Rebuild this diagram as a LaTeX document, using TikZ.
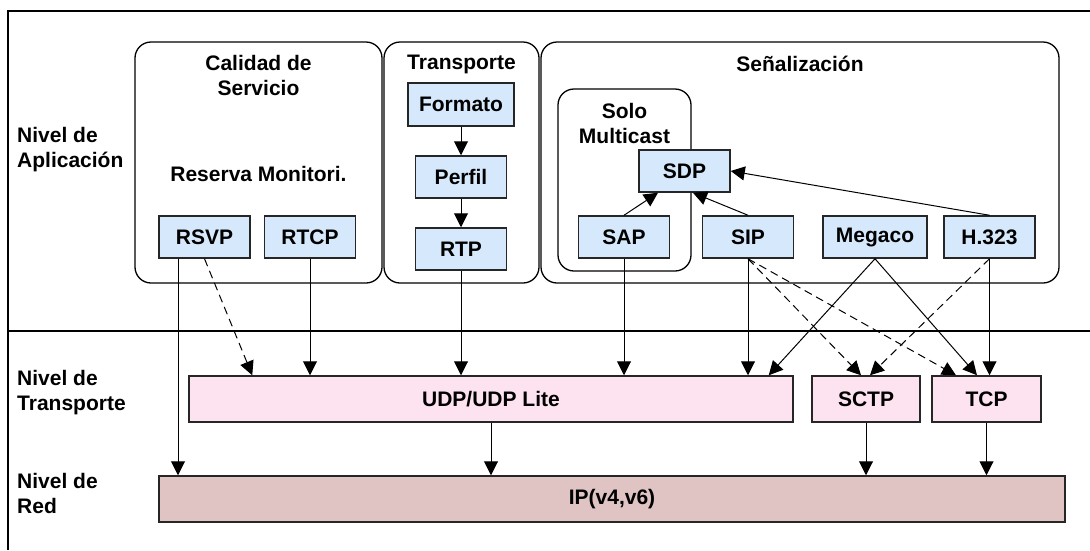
\documentclass[tikz,border=0pt]{standalone}
\usepackage{fontspec}
\setmainfont{Liberation Sans}
\usetikzlibrary{positioning, arrows.meta}

\definecolor{azulp}{RGB}{214,233,252}
\definecolor{rosa}{RGB}{253,226,240}
\definecolor{malva}{RGB}{224,196,196}

\tikzset{
  proto/.style={draw=black!85, line width=1.5pt, fill=azulp, inner sep=0pt,
                minimum width=91pt, minimum height=42pt},
  transp/.style={proto, fill=rosa, minimum height=46pt},
  ipbox/.style={proto, fill=malva, minimum height=46pt},
  grupo/.style={draw, line width=1.3pt, rounded corners=16pt, inner sep=0pt},
  titulo/.style={align=center, inner sep=0pt},
  nivel/.style={anchor=west, align=left, inner sep=0pt},
  flecha/.style={->, line width=1pt},
  punteada/.style={flecha, dash pattern=on 8pt off 5pt}
}

\begin{document}
\begin{tikzpicture}[x=1pt,y=-1pt,on grid,>={Triangle[length=14pt,width=14pt]},
                    font=\bfseries\fontsize{21}{25}\selectfont]
   \useasboundingbox (0,0) rectangle (1090,550);

   % marco y niveles
   \draw[line width=1.3pt] (8,550) -- (8,11) -- (1090,11);
   \draw[line width=1.3pt] (8,331) -- (1090,331);

   \node[nivel] (n_apl) at (17,150) {Nivel de\\Aplicación};
   \node[nivel] (n_tra) at (17,393) {Nivel de\\Transporte};
   \node[nivel] (n_red) at (17,493) {Nivel de\\Red};

   % grupos
   \node[grupo, minimum width=247pt, minimum height=241pt] (g_qos) at (258.5,162.5) {};
   \node[grupo, minimum width=155pt, minimum height=241pt] (g_tra) at (461.5,162.5) {};
   \node[grupo, minimum width=518pt, minimum height=241pt] (g_sen) at (800,162.5) {};
   \node[grupo, minimum width=133pt, minimum height=182pt] (g_mul) at (624.5,180) {};

   \node[titulo] (t_qos) at (258.5,75.5) {Calidad de\\Servicio};
   \node[titulo] (t_res) at (258.5,174) {Reserva Monitori.};
   \node[titulo] (t_tra) at (461.5,64) {Transporte};
   \node[titulo] (t_sen) at (800,64) {Señalización};
   \node[titulo] (t_mul) at (624.5,123.5) {Solo\\Multicast};

   % protocolos
   \node[proto] (rsvp) at (204.5,237) {RSVP};
   \node[proto] (rtcp) [right=105.5pt of rsvp] {RTCP};
   \node[proto, minimum width=106pt, minimum height=43pt] (formato) at (461,104.5) {Formato};
   \node[proto] (perfil) [below=72.5pt of formato] {Perfil};
   \node[proto] (rtp) [below=72pt of perfil] {RTP};
   \node[proto] (sdp) at (684.5,171) {SDP};
   \node[proto] (sap) at (624,237) {SAP};
   \node[proto] (sip) at (748,237) {SIP};
   \node[proto, minimum width=104pt] (megaco) at (875,237) {Megaco};
   \node[proto] (h323) at (989.5,237) {H.323};

   \node[transp, minimum width=604pt] (udp) at (491,399) {UDP/UDP Lite};
   \node[transp, minimum width=108pt] (sctp) at (866,399) {SCTP};
   \node[transp, minimum width=109pt] (tcp) at (986.5,399) {TCP};
   \node[ipbox, minimum width=906pt] (ip) at (612,499) {IP(v4,v6)};

   \coordinate (rsvp_out) at ([xshift=-26.5pt]rsvp.south);

   \path[flecha]
   (formato) edge (perfil)
   (perfil)  edge (rtp)
   (sap.north)  edge ([xshift=-26.5pt]sdp.south)
   (sip.north)  edge ([xshift=8.5pt]sdp.south)
   (h323.north) edge (sdp.east)
   (rsvp_out) edge (rsvp_out |- ip.north)
   (rtcp) edge (rtcp |- udp.north)
   (rtp)  edge (rtp |- udp.north)
   (sap)  edge (sap |- udp.north)
   (sip)  edge (sip |- udp.north)
   (megaco.south) edge ([xshift=-25pt]udp.north east)
   (megaco.south) edge ([xshift=-9.5pt]tcp.north)
   (h323) edge (h323 |- tcp.north)
   (udp)  edge (udp |- ip.north)
   (sctp) edge (sctp |- ip.north)
   (tcp)  edge (tcp |- ip.north);

   \path[punteada]
   (rsvp.south) edge ([xshift=64pt]udp.north west)
   (sip.south)  edge ([xshift=-5pt]sctp.north)
   (sip.south)  edge ([xshift=-30.5pt]tcp.north)
   (h323.south) edge ([xshift=4pt]sctp.north);

\end{tikzpicture}
\end{document}
